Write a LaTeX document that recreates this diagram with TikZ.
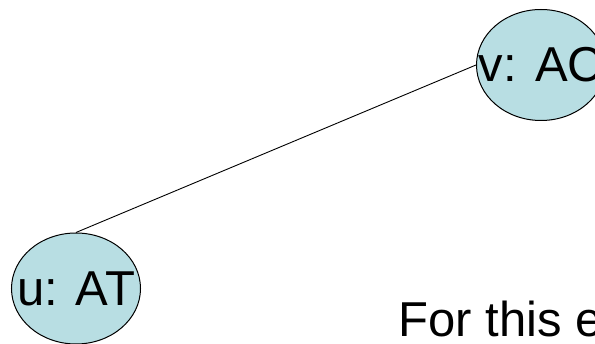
\documentclass[tikz,border=0pt]{standalone}
\usepackage{fontspec}
\setmainfont{Liberation Sans}
\usetikzlibrary{
  shapes.geometric, % 椭圆节点
  positioning       % 节点相对定位
}
\definecolor{vertexfill}{RGB}{184,222,227}

\begin{document}
\begin{tikzpicture}[x=1pt, y=-1pt,
    vertex/.style={ellipse, draw=black, line width=1pt, fill=vertexfill,
      minimum width=129pt, minimum height=111pt, inner sep=0pt,
      label={[font=\fontsize{49}{54}\selectfont]center:#1}}]
    % 画布范围
    \useasboundingbox (0, 0) rectangle (595, 344);

    % 两个顶点
    \node[vertex={v: AC}] (v) at (541, 65) {};
    \node[vertex={u: AT}] (u) at (76, 288.5) {};

    % 连线
    \draw[black, line width=0.9pt] (u.north) -- (v.west);

    % 底部文字
    \node[anchor=base west, inner sep=0pt, font=\fontsize{49}{54}\selectfont]
      (txt) at (398.5, 337) {For this e};
  \end{tikzpicture}
\end{document}
